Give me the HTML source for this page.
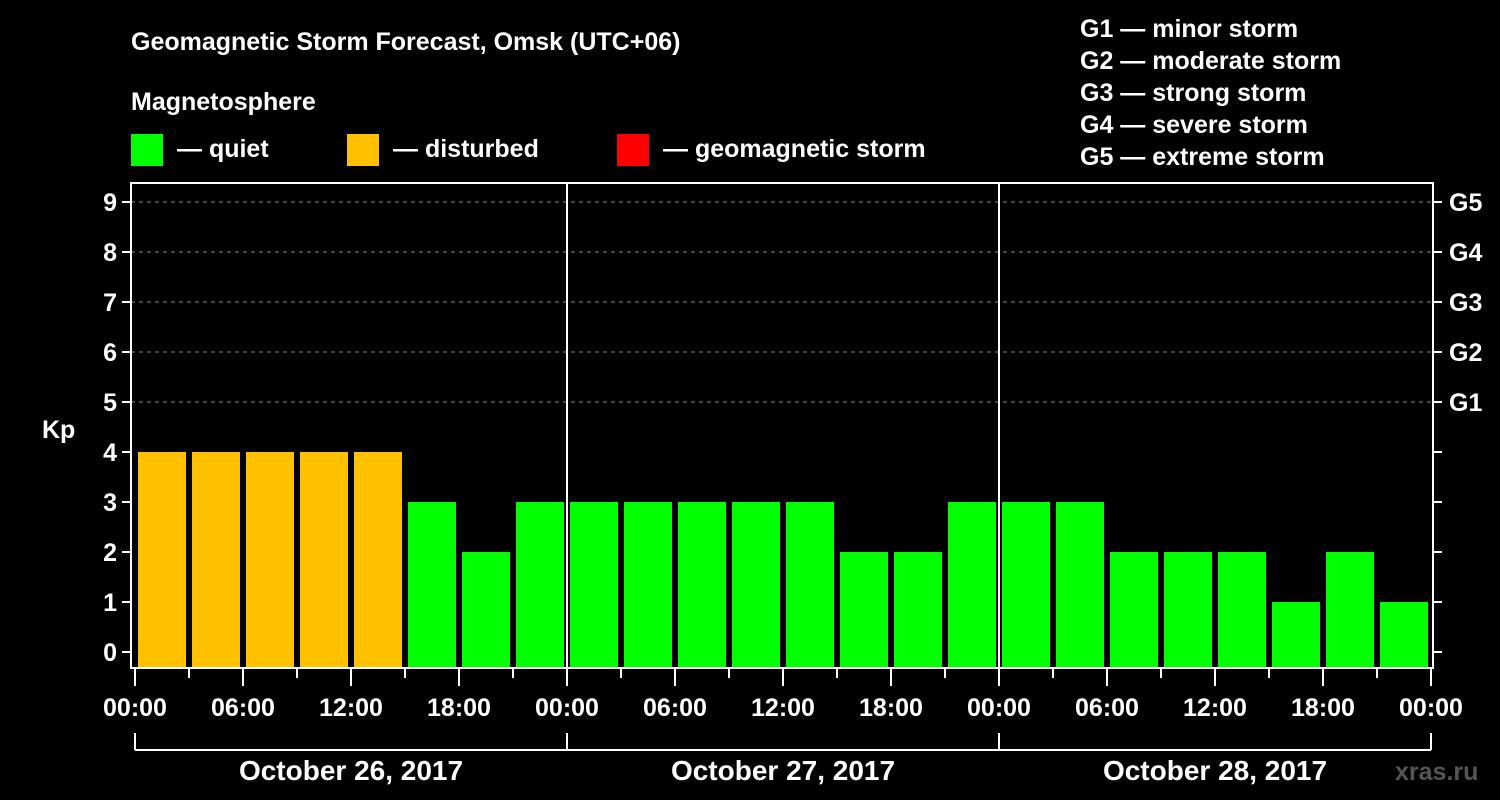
<!DOCTYPE html>
<html><head><meta charset="utf-8"><style>
html,body{margin:0;padding:0;background:#000;}
svg{display:block;font-family:"Liberation Sans",Arial,sans-serif;font-weight:bold;}
</style></head><body>
<svg id="chart" width="1500" height="800" viewBox="0 0 1500 800">
<rect x="0" y="0" width="1500" height="800" fill="#000"/>
<text x="131" y="50" fill="#fff" font-size="25">Geomagnetic Storm Forecast, Omsk (UTC+06)</text>
<text x="131" y="110" fill="#fff" font-size="25">Magnetosphere</text>
<g><rect x="131" y="134" width="32" height="32" fill="#00ff00"/><text x="177" y="157" fill="#fff" font-size="25">— quiet</text></g>
<g><rect x="347" y="134" width="32" height="32" fill="#ffc000"/><text x="393" y="157" fill="#fff" font-size="25">— disturbed</text></g>
<g><rect x="617" y="134" width="32" height="32" fill="#ff0000"/><text x="663" y="157" fill="#fff" font-size="25">— geomagnetic storm</text></g>
<g fill="#fff" font-size="25">
<text x="1080" y="37">G1 — minor storm</text>
<text x="1080" y="69">G2 — moderate storm</text>
<text x="1080" y="101">G3 — strong storm</text>
<text x="1080" y="133">G4 — severe storm</text>
<text x="1080" y="165">G5 — extreme storm</text>
</g>
<text x="42" y="438" fill="#fff" font-size="25">Kp</text>
<text x="1395" y="780" fill="#555" font-size="25">xras.ru</text>
<g id="plot"></g>
</svg>
<script>
const kpValues=[4,4,4,4,4,3,2,3, 3,3,3,3,3,2,2,3, 3,3,2,2,2,1,2,1];
const dayLabels=["October 26, 2017","October 27, 2017","October 28, 2017"];
const hourLabels=["00:00","06:00","12:00","18:00"];
const kpTicks=[0,1,2,3,4,5,6,7,8,9];
const gLabels=["G1","G2","G3","G4","G5"];

const NS="http://www.w3.org/2000/svg";
const plot=document.getElementById('plot');
const L=131,R=1433,T=183,B=668,X0=135,DAY=432;
const y=k=>652-50*k;
const x=h=>X0+h*DAY/24;
function mk(tag,attrs,parent){const e=document.createElementNS(NS,tag);for(const k in attrs)e.setAttribute(k,attrs[k]);(parent||plot).appendChild(e);return e;}

// gridlines
for(let k=5;k<=9;k++){
  const g=mk('line',{x1:L,x2:R,y1:y(k),y2:y(k),stroke:'#888','stroke-dasharray':'4,4','stroke-width':1});
  
  
}
// bars
kpValues.forEach((v,i)=>{
  const x1=x(i*3)+3,x2=x((i+1)*3)-3;
  const r=mk('rect',{x:x1,y:y(v),width:x2-x1,height:B-y(v),fill:v>=5?'#ff0000':(v>=4?'#ffc000':'#00ff00')});
  
  
});
// frame
const fr=mk('rect',{x:L,y:T,width:R-L,height:B-T,fill:'none',stroke:'#fff','stroke-width':2});


for(let d=1;d<dayLabels.length;d++){
  const dl=mk('line',{x1:x(24*d),x2:x(24*d),y1:T,y2:B,stroke:'#fff','stroke-width':2});
  
  
}
// y ticks
kpTicks.forEach(k=>{
  mk('line',{x1:L-9,x2:L,y1:y(k),y2:y(k),stroke:'#fff','stroke-width':2});
  mk('line',{x1:R,x2:R+9,y1:y(k),y2:y(k),stroke:'#fff','stroke-width':2});
  const t=mk('text',{x:L-14,y:y(k)+9,fill:'#fff','font-size':25,'text-anchor':'end'});
  t.textContent=k;
  
  
});
gLabels.forEach((g,i)=>{
  const t=mk('text',{x:R+16,y:y(5+i)+9,fill:'#fff','font-size':25});
  t.textContent=g;
  
  
});
// x ticks
const nd=dayLabels.length;
for(let h=0;h<=24*nd;h+=3){
  const major=h%6===0;
  mk('line',{x1:x(h),x2:x(h),y1:B,y2:B+(major?18:10),stroke:'#fff','stroke-width':2});
  if(major){
    const t=mk('text',{x:x(h),y:716,fill:'#fff','font-size':25,'text-anchor':'middle'});
    t.textContent=hourLabels[(h/6)%4];
    
    
  }
}
// day brackets
mk('line',{x1:x(0),x2:x(24*nd),y1:750,y2:750,stroke:'#fff','stroke-width':2});
for(let d=0;d<=nd;d++) mk('line',{x1:x(24*d),x2:x(24*d),y1:733,y2:750,stroke:'#fff','stroke-width':2});
dayLabels.forEach((s,d)=>{
  const t=mk('text',{x:x(24*d+12),y:780,fill:'#fff','font-size':28,'text-anchor':'middle'});
  t.textContent=s;
  
  
});
</script>
</body></html>
